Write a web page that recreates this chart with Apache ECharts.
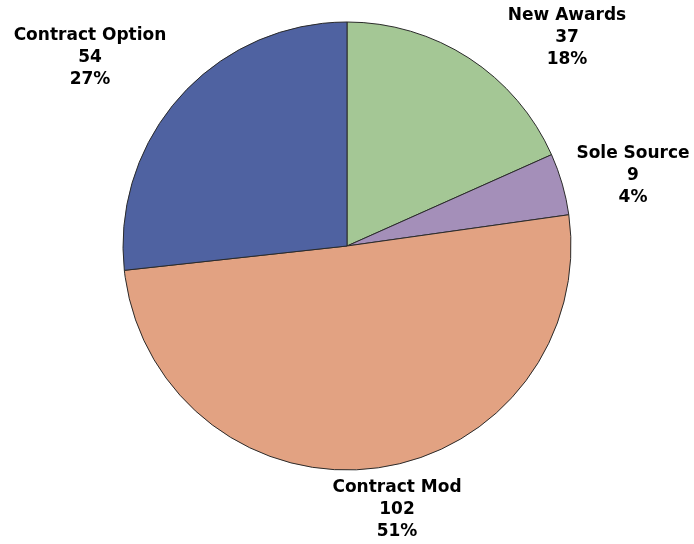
<!DOCTYPE html>
<html>
<head>
<meta charset="utf-8">
<script src="https://cdn.jsdelivr.net/npm/echarts@6/dist/echarts.min.js"></script>
<style>
  html, body { margin: 0; padding: 0; background: #ffffff; }
  #chart { width: 694px; height: 544px; }
</style>
</head>
<body>
<div id="chart"></div>
<script>
// Procurement actions by type
const categories = ['New Awards', 'Sole Source', 'Contract Mod', 'Contract Option'];
const counts = [37, 9, 102, 54];
const sliceColors = ['#a4c795', '#a48fb9', '#e2a282', '#4f62a1'];
// Label block centres (px), one per category
const labelCenters = [[567, 38], [633, 176], [397, 510], [90, 58]];

const chart = echarts.init(document.getElementById('chart'), null, { renderer: 'canvas' });
chart.setOption({
  backgroundColor: '#ffffff',
  animation: false,
  series: [{
    type: 'pie',
    center: [347, 246],
    radius: 224,
    startAngle: 90,
    clockwise: true,
    percentPrecision: 0,
    data: categories.map((name, i) => ({
      name: name,
      value: counts[i],
      itemStyle: { color: sliceColors[i] }
    })),
    itemStyle: { borderColor: '#2b2b2b', borderWidth: 1 },
    label: {
      show: true,
      position: 'outside',
      formatter: '{b}\n{c}\n{d}%',
      fontFamily: 'DejaVu Sans',
      fontWeight: 'bold',
      fontSize: 17,
      lineHeight: 22,
      color: '#000000',
      align: 'center',
      overflow: 'none',
      width: 200
    },
    labelLine: { show: false },
    labelLayout: function (params) {
      const p = labelCenters[params.dataIndex];
      return { x: p[0], y: p[1], align: 'center', verticalAlign: 'middle' };
    },
    emphasis: { disabled: true }
  }]
});
</script>
</body>
</html>
